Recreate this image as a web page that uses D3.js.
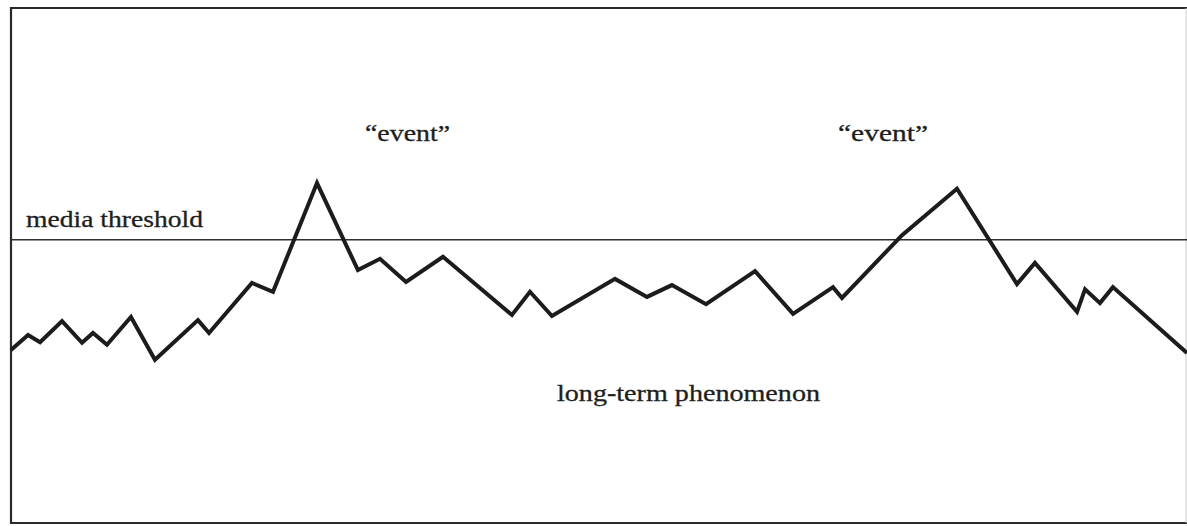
<!DOCTYPE html>
<html>
<head>
<meta charset="utf-8">
<script src="https://cdn.jsdelivr.net/npm/d3@7"></script>
<style>
  html, body { margin: 0; padding: 0; background: #fff; }
  svg { display: block; }
  .lbl { font-family: "Liberation Serif", "Times New Roman", serif; font-size: 23px; fill: #1e1e1e; stroke: #1e1e1e; stroke-width: 0.3px; }
</style>
</head>
<body>
<svg id="chart" width="1187" height="526"></svg>
<script>
// time (0-100) and intensity (0-100)
var times  = [0, 1.45, 2.47, 4.34, 6.04, 6.97, 8.16, 10.2, 12.24, 15.9, 16.84, 20.49, 22.28, 26.02, 29.5, 31.38,
              33.59, 36.73, 42.6, 44.13, 46.0, 51.36, 54.08, 56.2, 59.1, 63.27, 66.5, 69.9, 70.66, 75.77, 80.44,
              85.54, 87.07, 90.65, 91.33, 92.6, 93.7, 100];
var values = [33.6, 36.5, 35.1, 39.2, 35.0, 36.9, 34.6, 40.0, 31.7, 39.4, 36.9, 46.6, 44.9, 66.0, 49.1, 51.3,
              46.8, 51.7, 40.4, 44.9, 40.2, 47.4, 43.9, 46.2, 42.5, 48.9, 40.6, 45.8, 43.7, 55.9, 64.9,
              46.4, 50.5, 41.0, 45.4, 42.7, 45.8, 33.0];
var threshold = 55;
var thresholdLabel = "media threshold";
var eventLabel = "\u201cevent\u201d";
var phenomenonLabel = "long-term phenomenon";

var svg = d3.select("#chart");
var padL = 11, padR = 1187, padT = 8, padB = 523;

var x = d3.scaleLinear().domain([0, 100]).range([padL, padR]);
var y = d3.scaleLinear().domain([0, 100]).range([padB, padT]);

// frame (open on the right like the scan)
svg.append("path")
  .attr("d", "M" + padR + "," + padT + "H" + padL + "V" + padB + "H" + padR)
  .attr("fill", "none")
  .attr("stroke", "#2a2a2a")
  .attr("stroke-width", 2.2);
svg.append("line")
  .attr("x1", padR - 1).attr("x2", padR - 1)
  .attr("y1", padT).attr("y2", padB)
  .attr("stroke", "#ccc").attr("stroke-width", 1);

// threshold
svg.append("line")
  .attr("x1", x(0)).attr("x2", x(100))
  .attr("y1", y(threshold)).attr("y2", y(threshold))
  .attr("stroke", "#2e2e2e")
  .attr("stroke-width", 1.6);

var pts = times.map(function(t, i){ return [t, values[i]]; });

svg.append("path")
  .datum(pts)
  .attr("fill", "none")
  .attr("stroke", "#1c1c1c")
  .attr("stroke-width", 4)
  .attr("stroke-linejoin", "miter")
  .attr("d", d3.line()
    .x(function(d){ return x(d[0]); })
    .y(function(d){ return y(d[1]); }));

// labels
svg.append("text").attr("class", "lbl")
  .attr("x", 26).attr("y", 227)
  .attr("textLength", 177).attr("lengthAdjust", "spacingAndGlyphs")
  .text(thresholdLabel);

svg.append("text").attr("class", "lbl")
  .attr("x", 365).attr("y", 141)
  .attr("textLength", 85).attr("lengthAdjust", "spacingAndGlyphs")
  .text(eventLabel);

svg.append("text").attr("class", "lbl")
  .attr("x", 838).attr("y", 141)
  .attr("textLength", 90).attr("lengthAdjust", "spacingAndGlyphs")
  .text(eventLabel);

svg.append("text").attr("class", "lbl")
  .attr("x", 557).attr("y", 401)
  .attr("textLength", 263).attr("lengthAdjust", "spacingAndGlyphs")
  .text(phenomenonLabel);
</script>
</body>
</html>
